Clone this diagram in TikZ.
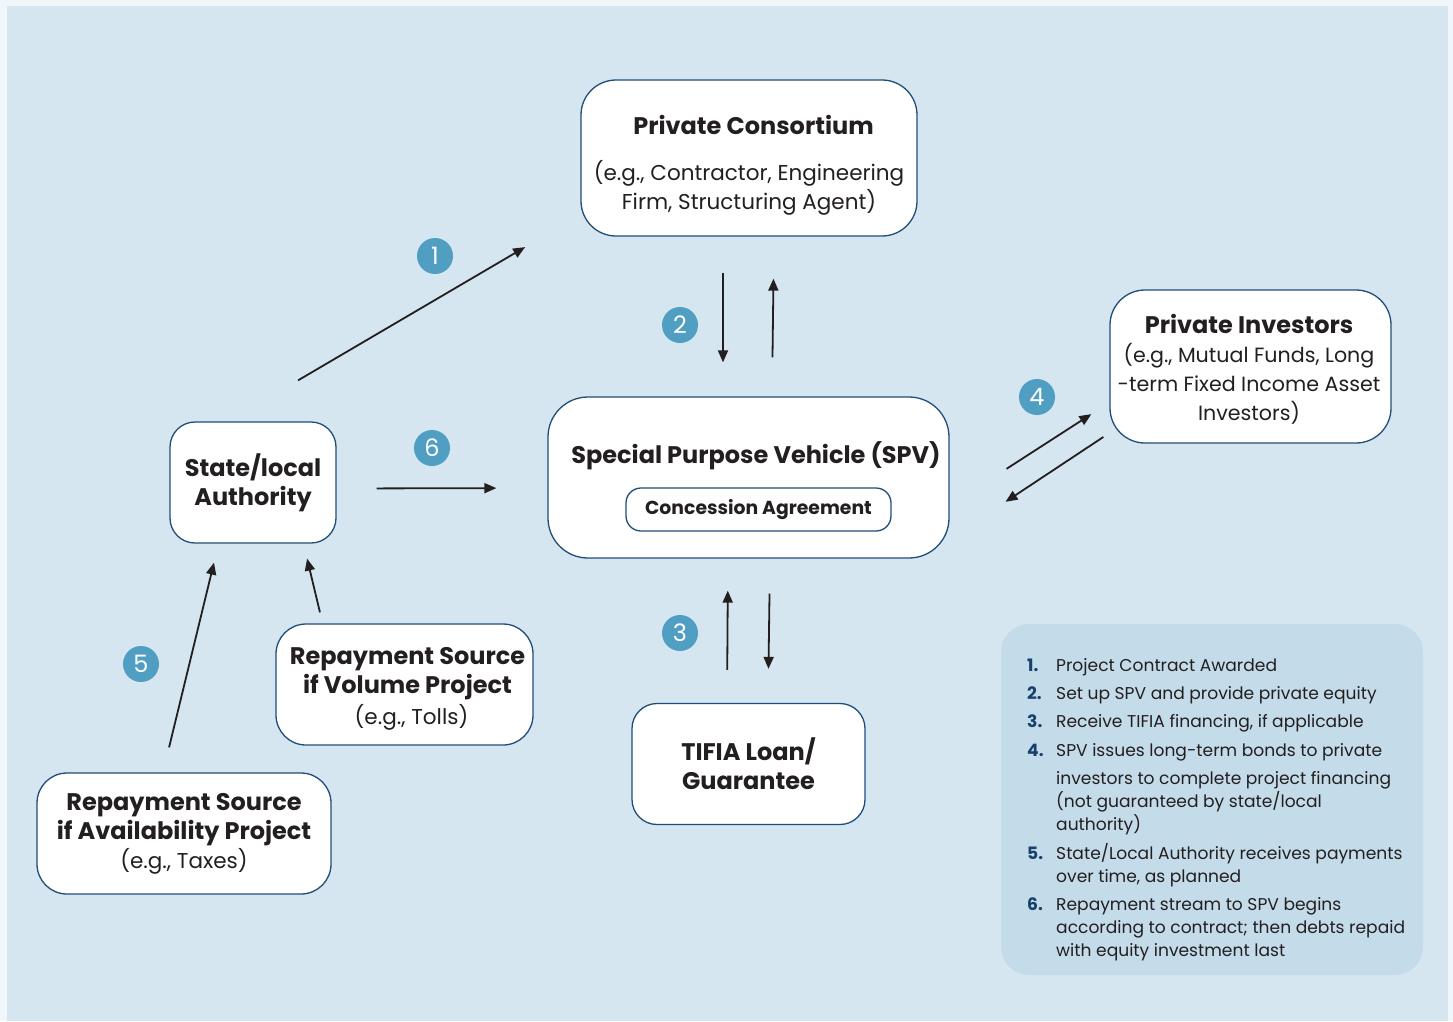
\documentclass[tikz,border=0pt]{standalone}
\usepackage{fontspec}
\setmainfont{Poppins}
\usetikzlibrary{arrows.meta}
\definecolor{pageblue}{HTML}{F1F6FA}
\definecolor{panelblue}{HTML}{D5E6F0}
\definecolor{keyblue}{HTML}{C4DCEA}
\definecolor{badgeblue}{HTML}{509FC2}
\definecolor{edgeblue}{HTML}{1F4E79}
\definecolor{navy}{HTML}{17406A}
\definecolor{ink}{HTML}{231F20}
\tikzstyle{party} = [rectangle, rounded corners=30pt, draw=edgeblue, line width=1.3pt,
fill=white, text=ink, align=center, inner sep=0pt, font=\bodyfont]
\tikzstyle{caption} = [text=ink, align=center, inner sep=0pt]
\tikzstyle{badge} = [circle, fill=badgeblue, text=white, minimum size=36pt, inner sep=0pt,
font=\fontsize{24}{24}\selectfont]
\tikzstyle{arrow} = [line width=1.8pt, draw=ink, -{Triangle[length=12pt,width=10pt]}]
\newcommand{\headfont}{\fontsize{24}{29}\selectfont\bfseries}
\newcommand{\bodyfont}{\fontsize{21.5}{29}\selectfont}
\newcommand{\keyfont}{\fontsize{17.1}{23}\selectfont}
\newcommand{\keynum}[1]{\textcolor{navy}{\bfseries #1}}

\begin{document}
\begin{tikzpicture}[x=1pt,y=-1pt]
    \useasboundingbox (0,0) rectangle (1453,1021);
    \fill[pageblue] (0,0) rectangle (1453,1021);
    \fill[panelblue] (7,6) rectangle (1448,1021);

    % parties
    \node (cons) [party, rounded corners=35pt, minimum width=336pt, minimum height=156pt]
        at (749,158) {};
    \node (consname) [caption, font=\headfont] at (753.5,125) {Private Consortium};
    \node (consnote) [caption, font=\bodyfont] at (749,187.5)
        {(e.g., Contractor, Engineering\\ Firm, Structuring Agent)};
    \node (spv) [party, rounded corners=40pt, minimum width=401pt, minimum height=161pt]
        at (748.5,477.5) {};
    \node (spvname) [caption, font=\headfont] at (756,456) {Special Purpose Vehicle (SPV)};
    \node (conc) [party, rounded corners=15pt, minimum width=265pt, minimum height=43pt,
        font=\fontsize{18.8}{20}\selectfont\bfseries] at (758.5,509.5) {Concession Agreement};
    \node (inv) [party, rounded corners=35pt, minimum width=281pt, minimum height=153pt]
        at (1250.5,366.5) {};
    \node (invtext) [caption, font=\fontsize{20.6}{29}\selectfont] at (1249,369)
        {{\headfont Private Investors}\\ (e.g., Mutual Funds, Long\\ -term Fixed Income Asset\\ Investors)};
    \node (auth) [party, rounded corners=25pt, minimum width=166pt, minimum height=121pt,
        font=\headfont] at (253,482.5) {State/local\\ Authority};
    \node (vol) [party, minimum width=257pt, minimum height=121pt] at (404.5,684.5) {};
    \node (volname) [caption, font=\headfont] at (407.5,674) {Repayment Source\\ if Volume Project};
    \node (volnote) [caption, font=\bodyfont] at (411.5,717) {(e.g., Tolls)};
    \node (avail) [party, minimum width=294pt, minimum height=121pt]
        at (184,833.5) {{\headfont Repayment Source}\\ {\headfont if Availability Project}\\ (e.g., Taxes)};
    \node (tifia) [party, rounded corners=25pt, minimum width=233pt, minimum height=121pt,
        font=\headfont] at (748.5,764) {TIFIA Loan/\\ Guarantee};

    % steps
    \node (b1) [badge] at (435,256) {1};
    \node (b2) [badge] at (680,325) {2};
    \node (b3) [badge] at (680,633) {3};
    \node (b4) [badge] at (1037,397) {4};
    \node (b5) [badge] at (141,664) {5};
    \node (b6) [badge] at (432,448) {6};

    \draw[arrow, shorten <=81pt, shorten >=64pt] ([xshift=-24.8pt]auth.north) -- ([yshift=-56.7pt]cons.west);
    \draw[arrow, shorten <=36pt, shorten >=34pt] ([xshift=-26pt]cons.south) -- ([xshift=-25.5pt]spv.north);
    \draw[arrow, shorten <=39pt, shorten >=42pt] ([xshift=23.5pt]spv.north) -- ([xshift=25pt]cons.south);
    \draw[arrow, shorten <=33pt, shorten >=32pt] ([xshift=-21.5pt]tifia.north) -- ([xshift=-20.5pt]spv.south);
    \draw[arrow, shorten <=35pt, shorten >=34pt] ([xshift=21.5pt]spv.south) -- ([xshift=19.5pt]tifia.north);
    \draw[arrow, shorten <=67.7pt, shorten >=21.4pt] ([yshift=-28pt]spv.east) -- ([yshift=-36pt]inv.west);
    \draw[arrow, shorten <=7.2pt, shorten >=67pt] ([yshift=-66.5pt]inv.west) -- ([yshift=-61.3pt]spv.east);
    \draw[arrow, shorten <=25.7pt, shorten >=19.5pt] ([xshift=-21pt]avail.north) -- ([xshift=-34.4pt]auth.south);
    \draw[arrow, shorten <=11.3pt, shorten >=15.4pt] ([xshift=-81.9pt]vol.north) -- ([xshift=50.5pt]auth.south);
    \draw[arrow, shorten <=40pt, shorten >=51pt] ([yshift=-6pt]auth.east) -- ([yshift=-10.5pt]spv.west);

    % key
    \node (key) [fill=keyblue, rounded corners=28pt, minimum width=422pt, minimum height=351pt]
        at (1212,799.5) {};
    \node (keytext) [anchor=base west, inner sep=0pt, font=\keyfont, text=ink] at (1027,671)
        {\begin{tabular}[t]{@{}p{29pt}@{}l@{}}
        \keynum{1.} & Project Contract Awarded\\[5pt]
        \keynum{2.} & Set up SPV and provide private equity\\[5pt]
        \keynum{3.} & Receive TIFIA financing, if applicable\\[6pt]
        \keynum{4.} & SPV issues long-term bonds to private\\[5pt]
                    & investors to complete project financing\\
                    & (not guaranteed by state/local\\
                    & authority)\\[6pt]
        \keynum{5.} & State/Local Authority receives payments\\
                    & over time, as planned\\[5pt]
        \keynum{6.} & Repayment stream to SPV begins\\
                    & according to contract; then debts repaid\\
                    & with equity investment last
        \end{tabular}};
\end{tikzpicture}
\end{document}
